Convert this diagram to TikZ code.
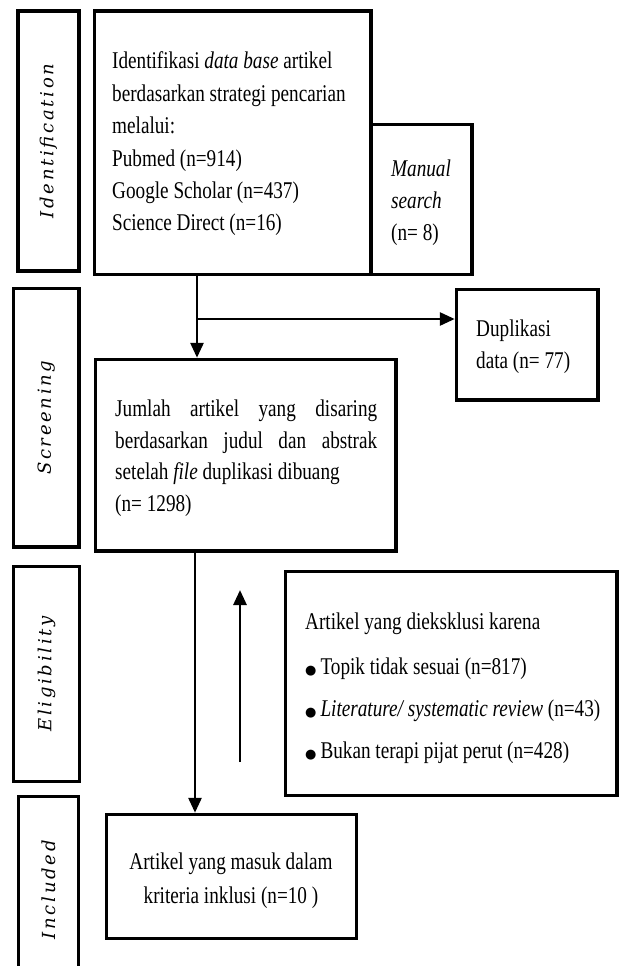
\documentclass[tikz,border=0pt]{standalone}
\usepackage{fontspec}
\setmainfont{Liberation Serif}[FakeStretch=0.80]
\newfontfamily\sidefont{DejaVu Serif}[LetterSpace=15]
\newfontfamily\dotfont{DejaVu Sans}
\usetikzlibrary{arrows.meta,fit}
\newcommand{\bigdot}{{\dotfont\fontsize{13}{13}\selectfont ●}}
\begin{document}
\begin{tikzpicture}[x=1pt,y=-1pt,
  box/.style={draw=black, line width=3.5pt, inner sep=0pt},
  txt/.style={anchor=base west, inner sep=0pt, font=\fontsize{24}{28}\selectfont},
  ctxt/.style={anchor=base, inner sep=0pt, font=\fontsize{24}{28}\selectfont},
  sidelab/.style={rotate=90, inner sep=0pt, font=\sidefont\itshape\fontsize{18}{22}\selectfont},
  conn/.style={draw=black, line width=2.8pt, -{Triangle[length=15pt,width=13pt]}}]
\useasboundingbox (0,0) rectangle (620,966);
\clip (0,0) rectangle (620,966);
% side boxes
\node[box, fit={(18,11) (79,271)}] (idside) {};
\node[box, fit={(13.5,288.5) (79,547)}] (scside) {};
\node[box, fit={(13.5,566.5) (79.5,781.5)}] (elside) {};
\node[box, fit={(18.5,796.5) (78.5,975)}] (inside) {};
\node[sidelab] (idlab) at (idside.center) {Identification};
\node[sidelab] (sclab) at (scside.center) {Screening};
\node[sidelab] (ellab) at (elside.center) {Eligibility};
\node[sidelab] (inlab) at ([yshift=-4pt]inside.center) {Included};
% main boxes
\node[box, fit={(94.5,11) (371,274.5)}] (main) {};
\node[box, fit={(371,124.5) (472,274.5)}] (manual) {};
\node[box, fit={(456.5,289.5) (598,400)}] (dupl) {};
\node[box, fit={(95.5,359.5) (396,551)}] (scmain) {};
\node[box, fit={(285.5,571.5) (617,795.5)}] (excl) {};
\node[box, fit={(106.5,814.5) (356.5,938.5)}] (incmain) {};
% texts
\node[txt] (m1) at (112,69) {Identifikasi \textit{data base} artikel};
\node[txt] (m2) at (112,101) {berdasarkan strategi pencarian};
\node[txt] (m3) at (112,133) {melalui:};
\node[txt] (m4) at (112,166) {Pubmed (n=914)};
\node[txt] (m5) at (112,198) {Google Scholar (n=437)};
\node[txt] (m6) at (112,230) {Science Direct (n=16)};
\node[txt] (ms1) at (391,176) {\textit{Manual}};
\node[txt] (ms2) at (391,208) {\textit{search}};
\node[txt] (ms3) at (391,240) {(n= 8)};
\node[txt] (d1) at (476,336) {Duplikasi};
\node[txt] (d2) at (476,368) {data (n= 77)};
\node[txt] (s1) at (115,416) {\makebox[262pt][s]{Jumlah artikel yang disaring}};
\node[txt] (s2) at (115,448) {\makebox[262pt][s]{berdasarkan judul dan abstrak}};
\node[txt] (s3) at (115,479) {setelah \textit{file} duplikasi dibuang};
\node[txt] (s4) at (115,511) {(n= 1298)};
\node[txt] (e0) at (305,629) {Artikel yang dieksklusi karena};
\node[txt] (e1) at (305,674) {\bigdot\,Topik tidak sesuai (n=817)};
\node[txt] (e2) at (305,716) {\bigdot\,\textit{Literature/ systematic review} (n=43)};
\node[txt] (e3) at (305,758) {\bigdot\,Bukan terapi pijat perut (n=428)};
\node[ctxt] (i1) at (231,869) {Artikel yang masuk dalam};
\node[ctxt] (i2) at (231,903) {kriteria inklusi (n=10 )};
% connectors
\coordinate (splitx) at (197,0);
\coordinate (branch) at (197,319);
\coordinate (downx) at (195,0);
\coordinate (upbot) at (240,762);
\coordinate (uptop) at (240,590);
\draw[conn] (main.south -| splitx) -- (scmain.north -| splitx);
\draw[conn] (branch) -- (dupl.west |- branch);
\draw[conn] (scmain.south -| downx) -- (incmain.north -| downx);
\draw[conn] (upbot) -- (uptop);
\end{tikzpicture}
\end{document}
